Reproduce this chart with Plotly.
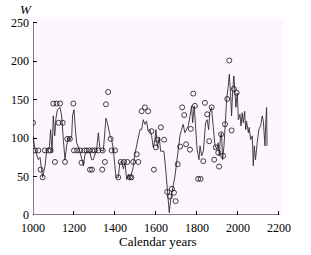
import plotly.graph_objects as go

# Line series (year, W)
line_years = [1000,1010,1026,1034,1047,1059,1067,1080,1086,1093,1099,1106,1112,1119,1132,1140,1148,1156,1164,1172,
              1180,1189,1193,1200,1207,1213,1229,1246,1254,1270,1278,1286,1294,1310,1319,1327,1343,1356,1363,1376,
              1384,1392,1405,1416,1424,1432,1441,1449,1457,1465,1473,1481,1489,1497,1506,1514,1522,1530,1538,1546,
              1554,1562,1571,1579,1587,1595,1600,1607,1616,1623,1632,1639,1649,1655,1662,1665,1672,1681,1693,1701,
              1709,1717,1725,1733,1741,1750,1758,1766,1774,1779,1787,1793,1801,1810,1815,1823,1831,1836,1842,1850,
              1857,1863,1871,1880,1888,1896,1904,1909,1915,1920,1925,1932,1937,1945,1953,1958,1964,1969,1974,1980,
              1985,1990,1997,2002,2010,2015,2021,2026,2033,2038,2042,2051,2055,2062,2070,2075,2080,2086,2094,2102,
              2111,2119,2124,2132,2135,2140,2142]
line_values = [103,85,72,75,49,64,85,88,111,81,129,103,126,137,140,129,98,72,90,101,
               97,103,129,137,111,94,83,64,79,83,81,72,72,85,107,85,83,126,120,103,
               98,85,49,49,68,70,60,68,46,53,46,53,62,79,90,98,111,111,124,118,
               122,109,111,103,88,98,111,88,101,83,83,83,55,33,12,3,20,33,51,68,
               85,103,111,118,107,111,116,129,142,120,142,116,85,72,90,77,83,98,120,124,
               111,133,140,114,90,86,94,77,103,107,72,90,120,150,168,183,159,129,159,181,
               163,140,159,124,131,116,133,120,135,111,122,107,114,98,103,64,90,72,94,111,
               116,129,122,90,116,140,90]

# Observed points (open circles)
obs_years = [1000,1010,1026,1037,1047,1058,1075,1086,1099,1115,1132,1107,1125,1145,1156,1167,1180,1197,
             1200,1215,1230,1250,1262,1275,1290,1237,1278,1288,1302,1319,1340,1338,1351,1356,1367,1379,
             1384,1400,1416,1428,1444,1460,1473,1480,1489,1514,1506,1530,1546,1562,1578,1590,1600,1608,
             1624,1640,1655,1668,1678,1688,1696,1706,1718,1728,1738,1747,1766,1770,1782,1790,1806,1818,
             1831,1839,1850,1860,1872,1884,1892,1904,1908,1918,1928,1937,1948,1958,1969,1980,1994]
obs_values = [120,84,84,59,49,84,84,84,145,145,145,69,120,120,69,99,99,145,
              84,84,84,84,84,84,84,68,59,59,84,84,84,59,69,144,160,99,
              84,84,49,69,69,69,49,49,69,69,79,135,140,135,109,59,88,98,
              114,98,30,24,34,29,18,66,89,140,130,92,85,112,158,142,47,47,
              70,146,131,96,140,72,88,81,63,105,77,118,151,201,110,164,159]

x_ticks = [1000, 1200, 1400, 1600, 1800, 2000, 2200]
y_ticks = [0, 50, 100, 150, 200, 250]
x_title = "Calendar years"
y_title = "W"

FONT = "Liberation Serif"

fig = go.Figure()
fig.add_trace(go.Scatter(x=line_years, y=line_values, mode="lines",
                         line=dict(color="#2e2e2e", width=0.9), showlegend=False, hoverinfo="skip"))
fig.add_trace(go.Scatter(x=obs_years, y=obs_values, mode="markers",
                         marker=dict(symbol="circle-open", size=5, color="#111111", line=dict(width=0.8)),
                         showlegend=False))

# Spines spanning only the tick range
fig.add_shape(type="line", xref="x", yref="y", x0=x_ticks[0], x1=x_ticks[-1], y0=y_ticks[0], y1=y_ticks[0],
              line=dict(color="black", width=1))
fig.add_shape(type="line", xref="x", yref="y", x0=x_ticks[0], x1=x_ticks[0], y0=y_ticks[0], y1=y_ticks[-1],
              line=dict(color="black", width=1))

fig.update_xaxes(range=[1000, 2220], tickvals=x_ticks, ticks="inside", ticklen=4, tickcolor="black",
                 showgrid=False, zeroline=False, showline=False, ticklabelstandoff=4,
                 tickfont=dict(family=FONT, size=12, color="black"))
fig.update_yaxes(range=[0, 255], tickvals=y_ticks, ticks="inside", ticklen=4, tickcolor="black",
                 showgrid=False, zeroline=False, showline=False, ticklabelstandoff=3,
                 tickfont=dict(family=FONT, size=12, color="black"))

fig.add_annotation(text=x_title, xref="paper", yref="paper", x=0.5, y=-0.135, showarrow=False,
                   xanchor="center", yanchor="middle", font=dict(family=FONT, size=13, color="black"))
fig.add_annotation(text="<i>" + y_title + "</i>", xref="paper", yref="paper", x=-0.03, y=1.05,
                   showarrow=False, xanchor="center", yanchor="middle",
                   font=dict(family=FONT, size=13, color="black"))

fig.update_layout(width=311, height=255, margin=dict(l=33, r=28, t=19, b=40),
                  plot_bgcolor="#fef6fe", paper_bgcolor="white")

fig.write_html("out.html")
